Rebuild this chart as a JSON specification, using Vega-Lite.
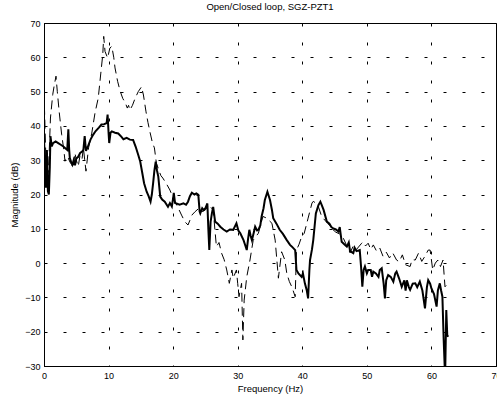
{
  "$schema": "https://vega.github.io/schema/vega-lite/v6.json",
  "autosize": {"type": "none"},
  "width": 452,
  "height": 343,
  "padding": {"left": 44, "top": 23, "right": 1, "bottom": 29},
  "background": "white",
  "config": {
    "font": "Liberation Sans",
    "view": {"stroke": "black", "strokeWidth": 1},
    "axis": {
      "labelFont": "Liberation Sans",
      "titleFont": "Liberation Sans",
      "labelFontSize": 9,
      "titleFontSize": 9.5,
      "titleFontWeight": "normal",
      "labelColor": "black",
      "titleColor": "black",
      "domainColor": "black",
      "grid": true,
      "gridColor": "black",
      "gridOpacity": 1,
      "gridWidth": 1,
      "gridDash": [3, 16],
      "ticks": false,
      "tickSize": 0
    },
    "title": {"font": "Liberation Sans", "fontSize": 9.5, "fontWeight": "normal", "color": "black"}
  },
  "title": {"text": "Open/Closed loop, SGZ-PZT1", "offset": 8},
  "data": {
    "values": [
      {"s": "closed", "f": 0.0, "m": 36}, {"s": "closed", "f": 0.15, "m": 30}, {"s": "closed", "f": 0.3, "m": 22},
      {"s": "closed", "f": 0.45, "m": 33}, {"s": "closed", "f": 0.6, "m": 21}, {"s": "closed", "f": 0.75, "m": 20},
      {"s": "closed", "f": 0.9, "m": 28}, {"s": "closed", "f": 1.0, "m": 37}, {"s": "closed", "f": 1.2, "m": 34},
      {"s": "closed", "f": 1.4, "m": 35}, {"s": "closed", "f": 1.8, "m": 35.5}, {"s": "closed", "f": 2.2, "m": 35},
      {"s": "closed", "f": 2.6, "m": 34.5}, {"s": "closed", "f": 3.0, "m": 34}, {"s": "closed", "f": 3.3, "m": 33.5},
      {"s": "closed", "f": 3.6, "m": 33}, {"s": "closed", "f": 3.77, "m": 39}, {"s": "closed", "f": 3.9, "m": 33},
      {"s": "closed", "f": 4.0, "m": 30.6}, {"s": "closed", "f": 4.2, "m": 29.5}, {"s": "closed", "f": 4.4, "m": 28.7},
      {"s": "closed", "f": 4.6, "m": 30}, {"s": "closed", "f": 4.8, "m": 28.5}, {"s": "closed", "f": 5.0, "m": 30.5},
      {"s": "closed", "f": 5.3, "m": 31}, {"s": "closed", "f": 5.6, "m": 32.1}, {"s": "closed", "f": 5.9, "m": 32.5},
      {"s": "closed", "f": 6.1, "m": 33}, {"s": "closed", "f": 6.3, "m": 37}, {"s": "closed", "f": 6.5, "m": 32.7},
      {"s": "closed", "f": 6.8, "m": 34}, {"s": "closed", "f": 7.2, "m": 36}, {"s": "closed", "f": 7.6, "m": 37.4},
      {"s": "closed", "f": 8.0, "m": 38.5}, {"s": "closed", "f": 8.5, "m": 39.5}, {"s": "closed", "f": 8.9, "m": 40.4},
      {"s": "closed", "f": 9.3, "m": 40.5}, {"s": "closed", "f": 9.7, "m": 40.8}, {"s": "closed", "f": 9.85, "m": 43.3},
      {"s": "closed", "f": 10.0, "m": 38}, {"s": "closed", "f": 10.1, "m": 35}, {"s": "closed", "f": 10.3, "m": 38},
      {"s": "closed", "f": 10.5, "m": 38.4}, {"s": "closed", "f": 11.0, "m": 38}, {"s": "closed", "f": 11.5, "m": 37.8},
      {"s": "closed", "f": 12.0, "m": 36.8}, {"s": "closed", "f": 12.3, "m": 36.1}, {"s": "closed", "f": 12.8, "m": 36.5},
      {"s": "closed", "f": 13.3, "m": 36}, {"s": "closed", "f": 13.8, "m": 35.9}, {"s": "closed", "f": 14.2, "m": 33.9},
      {"s": "closed", "f": 14.6, "m": 31.5}, {"s": "closed", "f": 14.9, "m": 29.6}, {"s": "closed", "f": 15.2, "m": 26.5},
      {"s": "closed", "f": 15.5, "m": 23.3}, {"s": "closed", "f": 15.9, "m": 20.8}, {"s": "closed", "f": 16.2, "m": 19.5},
      {"s": "closed", "f": 16.5, "m": 17.9}, {"s": "closed", "f": 16.7, "m": 20}, {"s": "closed", "f": 16.9, "m": 23.3},
      {"s": "closed", "f": 17.1, "m": 27}, {"s": "closed", "f": 17.3, "m": 29.6}, {"s": "closed", "f": 17.5, "m": 27},
      {"s": "closed", "f": 17.7, "m": 25.2}, {"s": "closed", "f": 18.0, "m": 19.4}, {"s": "closed", "f": 18.3, "m": 18.5},
      {"s": "closed", "f": 18.7, "m": 17.9}, {"s": "closed", "f": 19.0, "m": 17}, {"s": "closed", "f": 19.2, "m": 16.4},
      {"s": "closed", "f": 19.5, "m": 17.5}, {"s": "closed", "f": 19.8, "m": 16.5}, {"s": "closed", "f": 20.0, "m": 18.9},
      {"s": "closed", "f": 20.1, "m": 20.5}, {"s": "closed", "f": 20.3, "m": 17.5}, {"s": "closed", "f": 20.5, "m": 17.4},
      {"s": "closed", "f": 21.0, "m": 17}, {"s": "closed", "f": 21.6, "m": 17.4}, {"s": "closed", "f": 22.0, "m": 17},
      {"s": "closed", "f": 22.3, "m": 17.9}, {"s": "closed", "f": 22.6, "m": 19.5}, {"s": "closed", "f": 22.9, "m": 20.5},
      {"s": "closed", "f": 23.3, "m": 20}, {"s": "closed", "f": 23.6, "m": 20.3}, {"s": "closed", "f": 23.9, "m": 19.9},
      {"s": "closed", "f": 24.1, "m": 15}, {"s": "closed", "f": 24.2, "m": 14.5}, {"s": "closed", "f": 24.5, "m": 16},
      {"s": "closed", "f": 24.7, "m": 15.5}, {"s": "closed", "f": 25.0, "m": 16}, {"s": "closed", "f": 25.3, "m": 17.4},
      {"s": "closed", "f": 25.45, "m": 10}, {"s": "closed", "f": 25.6, "m": 3.8}, {"s": "closed", "f": 25.8, "m": 12},
      {"s": "closed", "f": 26.0, "m": 14.5}, {"s": "closed", "f": 26.2, "m": 16.4}, {"s": "closed", "f": 26.5, "m": 12.1},
      {"s": "closed", "f": 26.9, "m": 11.5}, {"s": "closed", "f": 27.3, "m": 10.6}, {"s": "closed", "f": 27.8, "m": 9.8},
      {"s": "closed", "f": 28.3, "m": 9.2}, {"s": "closed", "f": 28.8, "m": 9.8}, {"s": "closed", "f": 29.3, "m": 9.7},
      {"s": "closed", "f": 29.8, "m": 11.6}, {"s": "closed", "f": 30.1, "m": 9.5}, {"s": "closed", "f": 30.4, "m": 8.7},
      {"s": "closed", "f": 30.9, "m": 6.7}, {"s": "closed", "f": 31.2, "m": 5}, {"s": "closed", "f": 31.4, "m": 3.8},
      {"s": "closed", "f": 31.6, "m": 7}, {"s": "closed", "f": 31.8, "m": 9.7}, {"s": "closed", "f": 32.0, "m": 8},
      {"s": "closed", "f": 32.2, "m": 6.7}, {"s": "closed", "f": 32.5, "m": 9}, {"s": "closed", "f": 32.7, "m": 10.6},
      {"s": "closed", "f": 33.0, "m": 9.5}, {"s": "closed", "f": 33.2, "m": 9.7}, {"s": "closed", "f": 33.5, "m": 11},
      {"s": "closed", "f": 33.7, "m": 13.6}, {"s": "closed", "f": 34.0, "m": 16}, {"s": "closed", "f": 34.2, "m": 18.4},
      {"s": "closed", "f": 34.6, "m": 20.8}, {"s": "closed", "f": 35.0, "m": 18.4}, {"s": "closed", "f": 35.3, "m": 15.5},
      {"s": "closed", "f": 35.5, "m": 13.1}, {"s": "closed", "f": 36.0, "m": 11.5}, {"s": "closed", "f": 36.5, "m": 9.7},
      {"s": "closed", "f": 37.0, "m": 8.5}, {"s": "closed", "f": 37.6, "m": 6.7}, {"s": "closed", "f": 38.1, "m": 5.3},
      {"s": "closed", "f": 38.4, "m": 4.8}, {"s": "closed", "f": 38.9, "m": 3.8}, {"s": "closed", "f": 39.1, "m": -2},
      {"s": "closed", "f": 39.4, "m": -3}, {"s": "closed", "f": 39.9, "m": -4}, {"s": "closed", "f": 40.1, "m": -3},
      {"s": "closed", "f": 40.4, "m": -5.9}, {"s": "closed", "f": 40.7, "m": -8}, {"s": "closed", "f": 40.9, "m": -10.3},
      {"s": "closed", "f": 41.1, "m": -2}, {"s": "closed", "f": 41.2, "m": 0.9}, {"s": "closed", "f": 41.5, "m": 4},
      {"s": "closed", "f": 41.7, "m": 6.7}, {"s": "closed", "f": 42.1, "m": 14.5}, {"s": "closed", "f": 42.5, "m": 16.9},
      {"s": "closed", "f": 42.8, "m": 17.9}, {"s": "closed", "f": 43.0, "m": 17}, {"s": "closed", "f": 43.3, "m": 15.5},
      {"s": "closed", "f": 43.8, "m": 12.1}, {"s": "closed", "f": 44.2, "m": 11.5}, {"s": "closed", "f": 44.5, "m": 10.5},
      {"s": "closed", "f": 44.8, "m": 10.1}, {"s": "closed", "f": 45.2, "m": 9.8}, {"s": "closed", "f": 45.6, "m": 9.2},
      {"s": "closed", "f": 45.8, "m": 10.5}, {"s": "closed", "f": 46.1, "m": 6.2}, {"s": "closed", "f": 46.5, "m": 5.5},
      {"s": "closed", "f": 46.9, "m": 4.8}, {"s": "closed", "f": 47.2, "m": 6}, {"s": "closed", "f": 47.4, "m": 3.5},
      {"s": "closed", "f": 47.9, "m": 2.9}, {"s": "closed", "f": 48.1, "m": 4.5}, {"s": "closed", "f": 48.4, "m": 3.5},
      {"s": "closed", "f": 48.9, "m": 3.8}, {"s": "closed", "f": 49.1, "m": -1}, {"s": "closed", "f": 49.3, "m": -6.9},
      {"s": "closed", "f": 49.5, "m": -2}, {"s": "closed", "f": 49.7, "m": -1}, {"s": "closed", "f": 50.0, "m": -3},
      {"s": "closed", "f": 50.2, "m": -2}, {"s": "closed", "f": 50.6, "m": -2}, {"s": "closed", "f": 50.8, "m": -4},
      {"s": "closed", "f": 51.0, "m": -2.5}, {"s": "closed", "f": 51.4, "m": -3}, {"s": "closed", "f": 51.8, "m": -4},
      {"s": "closed", "f": 52.0, "m": -2}, {"s": "closed", "f": 52.3, "m": -1.5}, {"s": "closed", "f": 52.6, "m": -6},
      {"s": "closed", "f": 52.8, "m": -10.3}, {"s": "closed", "f": 53.0, "m": -5}, {"s": "closed", "f": 53.3, "m": -3.5},
      {"s": "closed", "f": 53.7, "m": -4}, {"s": "closed", "f": 54.1, "m": -5.4}, {"s": "closed", "f": 54.4, "m": -3},
      {"s": "closed", "f": 54.6, "m": -2.5}, {"s": "closed", "f": 55.0, "m": -4.5}, {"s": "closed", "f": 55.4, "m": -6.9},
      {"s": "closed", "f": 55.8, "m": -5}, {"s": "closed", "f": 56.0, "m": -8}, {"s": "closed", "f": 56.2, "m": -5},
      {"s": "closed", "f": 56.5, "m": -7}, {"s": "closed", "f": 56.7, "m": -7.8}, {"s": "closed", "f": 57.1, "m": -6},
      {"s": "closed", "f": 57.5, "m": -5.9}, {"s": "closed", "f": 57.8, "m": -7}, {"s": "closed", "f": 58.2, "m": -5.4},
      {"s": "closed", "f": 58.6, "m": -8}, {"s": "closed", "f": 59.0, "m": -13.2}, {"s": "closed", "f": 59.3, "m": -7},
      {"s": "closed", "f": 59.5, "m": -5}, {"s": "closed", "f": 59.8, "m": -6}, {"s": "closed", "f": 60.0, "m": -7.4},
      {"s": "closed", "f": 60.4, "m": -9}, {"s": "closed", "f": 60.8, "m": -12.7}, {"s": "closed", "f": 61.0, "m": -8},
      {"s": "closed", "f": 61.3, "m": -5.9}, {"s": "closed", "f": 61.5, "m": -8}, {"s": "closed", "f": 61.7, "m": -9.8},
      {"s": "closed", "f": 61.9, "m": -22.4}, {"s": "closed", "f": 62.05, "m": -30}, {"s": "closed", "f": 62.15, "m": -30},
      {"s": "closed", "f": 62.3, "m": -13.7}, {"s": "closed", "f": 62.45, "m": -21}, {"s": "closed", "f": 62.6, "m": -21.5},

      {"s": "open", "f": 0.0, "m": 50}, {"s": "open", "f": 0.15, "m": 40}, {"s": "open", "f": 0.3, "m": 30},
      {"s": "open", "f": 0.5, "m": 25}, {"s": "open", "f": 0.7, "m": 27}, {"s": "open", "f": 1.0, "m": 42.3},
      {"s": "open", "f": 1.35, "m": 49.1}, {"s": "open", "f": 1.6, "m": 52}, {"s": "open", "f": 1.86, "m": 54.5},
      {"s": "open", "f": 2.06, "m": 50}, {"s": "open", "f": 2.37, "m": 43.8}, {"s": "open", "f": 2.74, "m": 37.4},
      {"s": "open", "f": 3.1, "m": 32.6}, {"s": "open", "f": 3.25, "m": 29.7}, {"s": "open", "f": 3.5, "m": 31},
      {"s": "open", "f": 3.77, "m": 30.6}, {"s": "open", "f": 4.0, "m": 29.5}, {"s": "open", "f": 4.3, "m": 28.7},
      {"s": "open", "f": 4.5, "m": 27.7}, {"s": "open", "f": 4.8, "m": 32.1}, {"s": "open", "f": 5.0, "m": 30},
      {"s": "open", "f": 5.3, "m": 28.2}, {"s": "open", "f": 5.6, "m": 31.6}, {"s": "open", "f": 5.9, "m": 30.5},
      {"s": "open", "f": 6.1, "m": 33.6}, {"s": "open", "f": 6.5, "m": 26.8}, {"s": "open", "f": 6.9, "m": 33.6},
      {"s": "open", "f": 7.4, "m": 37.9}, {"s": "open", "f": 7.9, "m": 43.8}, {"s": "open", "f": 8.4, "m": 48.1},
      {"s": "open", "f": 8.8, "m": 55.4}, {"s": "open", "f": 9.1, "m": 60.8}, {"s": "open", "f": 9.25, "m": 66.1},
      {"s": "open", "f": 9.45, "m": 61.7}, {"s": "open", "f": 9.85, "m": 59.8}, {"s": "open", "f": 10.2, "m": 62.7},
      {"s": "open", "f": 10.5, "m": 63.2}, {"s": "open", "f": 10.8, "m": 60}, {"s": "open", "f": 11.0, "m": 56.9},
      {"s": "open", "f": 11.4, "m": 53}, {"s": "open", "f": 11.8, "m": 50.1}, {"s": "open", "f": 12.2, "m": 48},
      {"s": "open", "f": 12.6, "m": 46.7}, {"s": "open", "f": 12.9, "m": 45.2}, {"s": "open", "f": 13.1, "m": 46},
      {"s": "open", "f": 13.3, "m": 44.6}, {"s": "open", "f": 13.7, "m": 46}, {"s": "open", "f": 14.1, "m": 48},
      {"s": "open", "f": 14.6, "m": 50}, {"s": "open", "f": 15.1, "m": 51.4}, {"s": "open", "f": 15.4, "m": 49},
      {"s": "open", "f": 15.8, "m": 44.1}, {"s": "open", "f": 16.1, "m": 41}, {"s": "open", "f": 16.4, "m": 38.3},
      {"s": "open", "f": 16.8, "m": 35}, {"s": "open", "f": 17.1, "m": 33.6}, {"s": "open", "f": 17.4, "m": 29.2},
      {"s": "open", "f": 17.8, "m": 27}, {"s": "open", "f": 18.1, "m": 25.5}, {"s": "open", "f": 18.4, "m": 24.8},
      {"s": "open", "f": 19.0, "m": 23}, {"s": "open", "f": 19.5, "m": 21.3}, {"s": "open", "f": 20.0, "m": 19},
      {"s": "open", "f": 20.3, "m": 17.9}, {"s": "open", "f": 20.8, "m": 16}, {"s": "open", "f": 21.3, "m": 14},
      {"s": "open", "f": 21.8, "m": 12.1}, {"s": "open", "f": 22.3, "m": 11.1}, {"s": "open", "f": 22.6, "m": 12.5},
      {"s": "open", "f": 22.9, "m": 14}, {"s": "open", "f": 23.4, "m": 15}, {"s": "open", "f": 24.0, "m": 16},
      {"s": "open", "f": 24.5, "m": 15}, {"s": "open", "f": 25.0, "m": 15.5}, {"s": "open", "f": 25.5, "m": 17},
      {"s": "open", "f": 26.2, "m": 15.5}, {"s": "open", "f": 26.7, "m": 4.8}, {"s": "open", "f": 27.1, "m": 6},
      {"s": "open", "f": 27.5, "m": 2.9}, {"s": "open", "f": 27.9, "m": 1}, {"s": "open", "f": 28.3, "m": -2},
      {"s": "open", "f": 28.7, "m": -5.9}, {"s": "open", "f": 29.1, "m": -2}, {"s": "open", "f": 29.3, "m": -4.4},
      {"s": "open", "f": 29.8, "m": -2}, {"s": "open", "f": 30.0, "m": -6}, {"s": "open", "f": 30.2, "m": -9.8},
      {"s": "open", "f": 30.6, "m": -5.9}, {"s": "open", "f": 30.8, "m": -22.4}, {"s": "open", "f": 31.0, "m": -10.8},
      {"s": "open", "f": 31.4, "m": -4}, {"s": "open", "f": 31.9, "m": 0.9}, {"s": "open", "f": 32.4, "m": 6.7},
      {"s": "open", "f": 33.2, "m": 8.7}, {"s": "open", "f": 33.9, "m": 13.6}, {"s": "open", "f": 34.5, "m": 13.1},
      {"s": "open", "f": 35.3, "m": 11.6}, {"s": "open", "f": 35.8, "m": 6.7}, {"s": "open", "f": 36.3, "m": -4.4},
      {"s": "open", "f": 36.8, "m": 3.3}, {"s": "open", "f": 37.3, "m": 0.9}, {"s": "open", "f": 37.6, "m": -3},
      {"s": "open", "f": 38.0, "m": -5.4}, {"s": "open", "f": 38.4, "m": -7}, {"s": "open", "f": 38.9, "m": -9.8},
      {"s": "open", "f": 39.1, "m": 3.8}, {"s": "open", "f": 39.5, "m": 5.5}, {"s": "open", "f": 39.9, "m": 7.7},
      {"s": "open", "f": 40.3, "m": 8.7}, {"s": "open", "f": 40.9, "m": 13.1}, {"s": "open", "f": 41.5, "m": 17.5},
      {"s": "open", "f": 41.7, "m": 18}, {"s": "open", "f": 42.1, "m": 17.5}, {"s": "open", "f": 42.5, "m": 16.4},
      {"s": "open", "f": 43.0, "m": 13.6}, {"s": "open", "f": 43.5, "m": 12.5}, {"s": "open", "f": 44.0, "m": 11.5},
      {"s": "open", "f": 44.6, "m": 10}, {"s": "open", "f": 45.2, "m": 9}, {"s": "open", "f": 45.8, "m": 8.5},
      {"s": "open", "f": 46.3, "m": 7.5}, {"s": "open", "f": 46.9, "m": 5}, {"s": "open", "f": 47.4, "m": 3},
      {"s": "open", "f": 47.9, "m": 5}, {"s": "open", "f": 48.4, "m": 4}, {"s": "open", "f": 49.2, "m": 5.8},
      {"s": "open", "f": 49.4, "m": 6.2}, {"s": "open", "f": 49.8, "m": 5}, {"s": "open", "f": 50.2, "m": 5.8},
      {"s": "open", "f": 50.6, "m": 4}, {"s": "open", "f": 51.0, "m": 5.3}, {"s": "open", "f": 51.5, "m": 3.5},
      {"s": "open", "f": 51.7, "m": 3.8}, {"s": "open", "f": 52.0, "m": 4.4}, {"s": "open", "f": 52.5, "m": 2},
      {"s": "open", "f": 53.0, "m": 3.2}, {"s": "open", "f": 53.5, "m": 1.5}, {"s": "open", "f": 54.0, "m": 3},
      {"s": "open", "f": 54.6, "m": 0.9}, {"s": "open", "f": 55.0, "m": 0.4}, {"s": "open", "f": 55.5, "m": 2.4},
      {"s": "open", "f": 56.0, "m": -0.5}, {"s": "open", "f": 56.7, "m": -1}, {"s": "open", "f": 57.0, "m": 1},
      {"s": "open", "f": 57.5, "m": 0.9}, {"s": "open", "f": 58.0, "m": 2.9}, {"s": "open", "f": 58.5, "m": 0.5},
      {"s": "open", "f": 59.0, "m": 2}, {"s": "open", "f": 59.5, "m": 3.8}, {"s": "open", "f": 59.8, "m": 3.8},
      {"s": "open", "f": 60.2, "m": -2}, {"s": "open", "f": 60.6, "m": 0}, {"s": "open", "f": 61.0, "m": 0.9},
      {"s": "open", "f": 61.4, "m": -1}, {"s": "open", "f": 61.8, "m": 0.9}, {"s": "open", "f": 62.1, "m": -6.9},
      {"s": "open", "f": 62.6, "m": -5.9}
    ]
  },
  "encoding": {
    "x": {
      "field": "f", "type": "quantitative",
      "scale": {"domain": [0, 70], "nice": false, "zero": false},
      "axis": {"values": [0, 10, 20, 30, 40, 50, 60, 70], "title": "Frequency (Hz)", "labelPadding": 5, "titlePadding": 3, "labelFlush": false}
    },
    "y": {
      "field": "m", "type": "quantitative",
      "scale": {"domain": [-30, 70], "nice": false, "zero": false},
      "axis": {"values": [-30, -20, -10, 0, 10, 20, 30, 40, 50, 60, 70], "title": "Magnitude (dB)", "labelPadding": 4, "titlePadding": 5, "labelFlush": false}
    },
    "order": {"field": "f", "type": "quantitative"}
  },
  "layer": [
    {
      "transform": [{"filter": "datum.s === 'open'"}],
      "mark": {"type": "line", "color": "black", "strokeWidth": 1, "strokeDash": [9, 5], "clip": true}
    },
    {
      "transform": [{"filter": "datum.s === 'closed'"}],
      "mark": {"type": "line", "color": "black", "strokeWidth": 2, "clip": true}
    }
  ]
}
